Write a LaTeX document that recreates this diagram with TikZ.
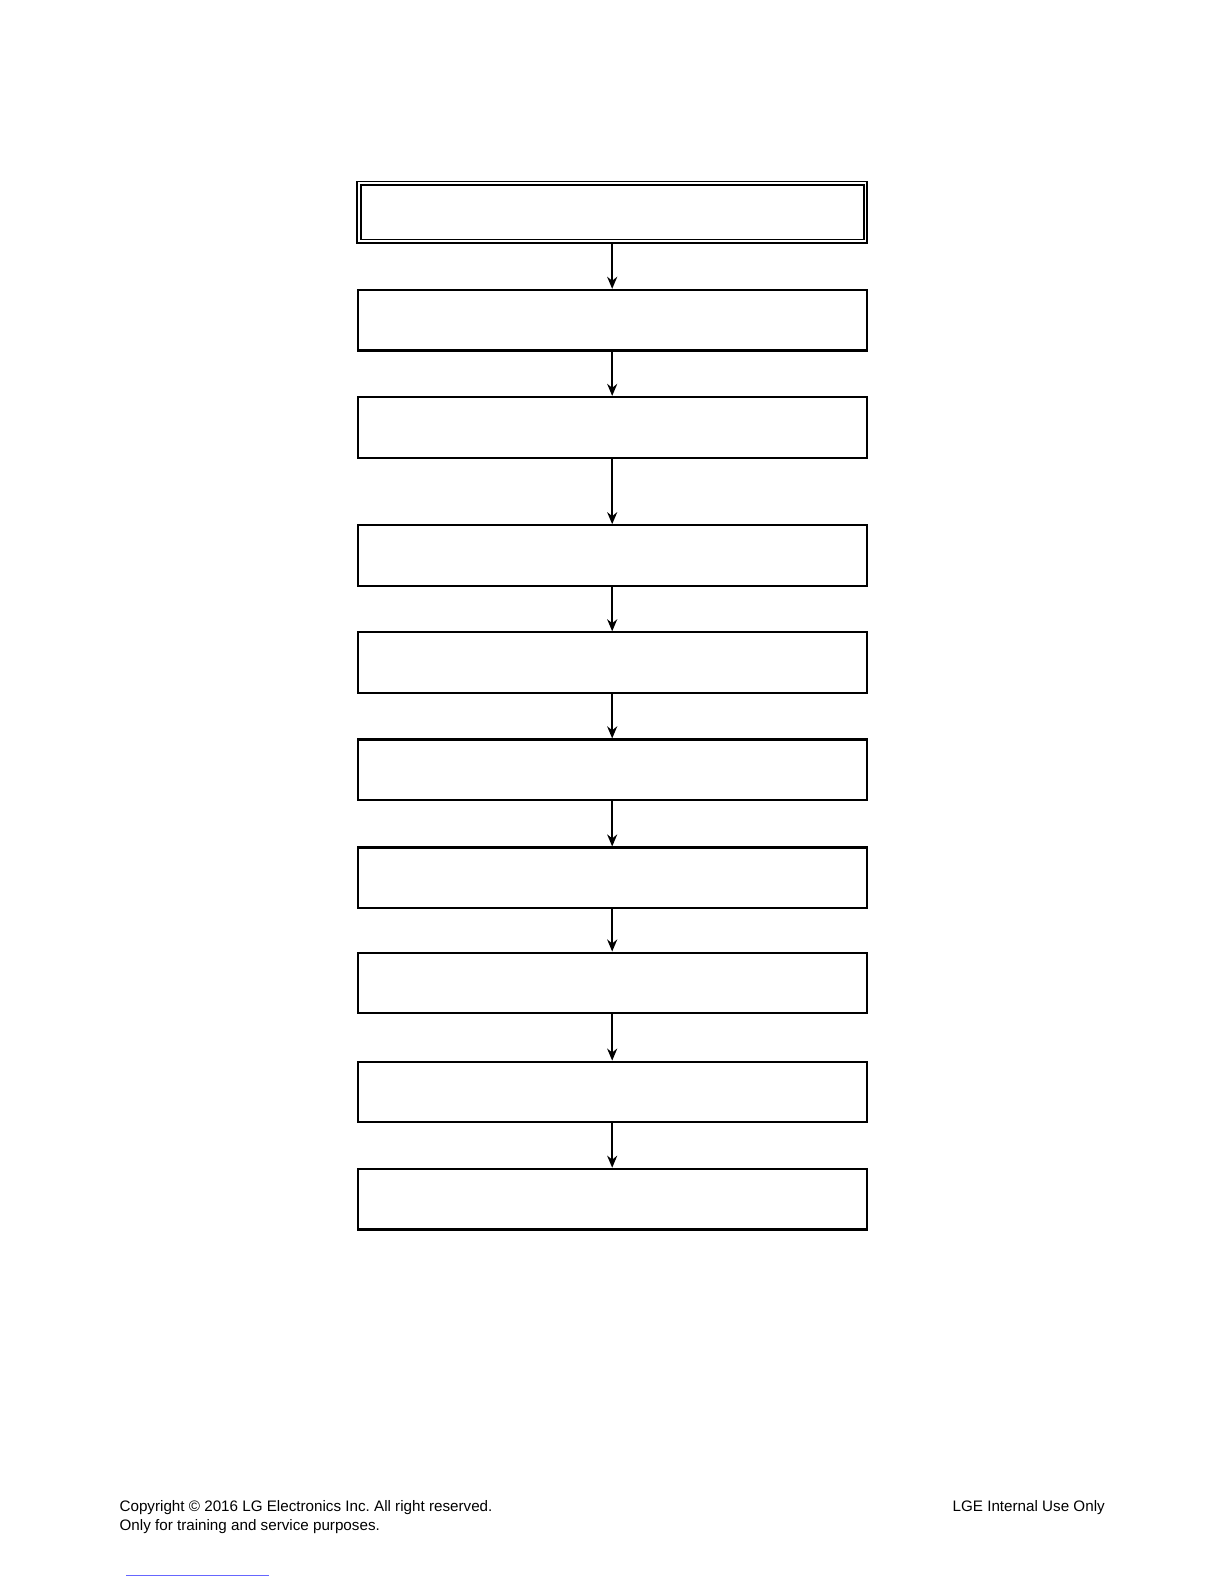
\documentclass[tikz,border=0pt]{standalone}
\usepackage{fontspec}
\setmainfont{Liberation Sans}
\usetikzlibrary{arrows.meta}
\frenchspacing
\begin{document}
\begin{tikzpicture}[x=0.505pt,y=-0.505pt,>={Stealth[length=6pt,width=5pt]}, line join=miter]
	\useasboundingbox (0,0) rectangle (1212,1568);
	\tikzset{flowbox/.style={draw, line width=1.1pt, minimum width=254.5pt, minimum height=30.3pt, inner sep=0pt}}
	% first box is framed twice
	\node[flowbox, double, line width=0.9pt, double distance=0.8pt, minimum width=253.2pt, minimum height=29pt] (b1) at (606,210) {};
	\foreach \i/\y in {2/317,3/423,4/550,5/656,6/762,7/869,8/973,9/1081,10/1187}
	\node[flowbox] (b\i) at (606,\y) {};
	\foreach \i [evaluate=\i as \j using int(\i+1)] in {1,...,9}
	\draw[->, line width=1pt] (b\i.south) -- (b\j.north);
	% footer
	\node[font=\fontsize{7.6}{9.5}\selectfont, anchor=north west, align=left, inner sep=0pt] (copy) at (118,1485)
	{Copyright \textcopyright{} 2016 LG Electronics Inc. All right reserved.\\Only for training and service purposes.};
	\node[font=\fontsize{7.6}{9.5}\selectfont, anchor=north east, inner sep=0pt] (lge) at (1094,1485) {LGE Internal Use Only};
	\draw[blue!60, line width=0.4pt] (125,1559) -- (266,1559);
\end{tikzpicture}
\end{document}
